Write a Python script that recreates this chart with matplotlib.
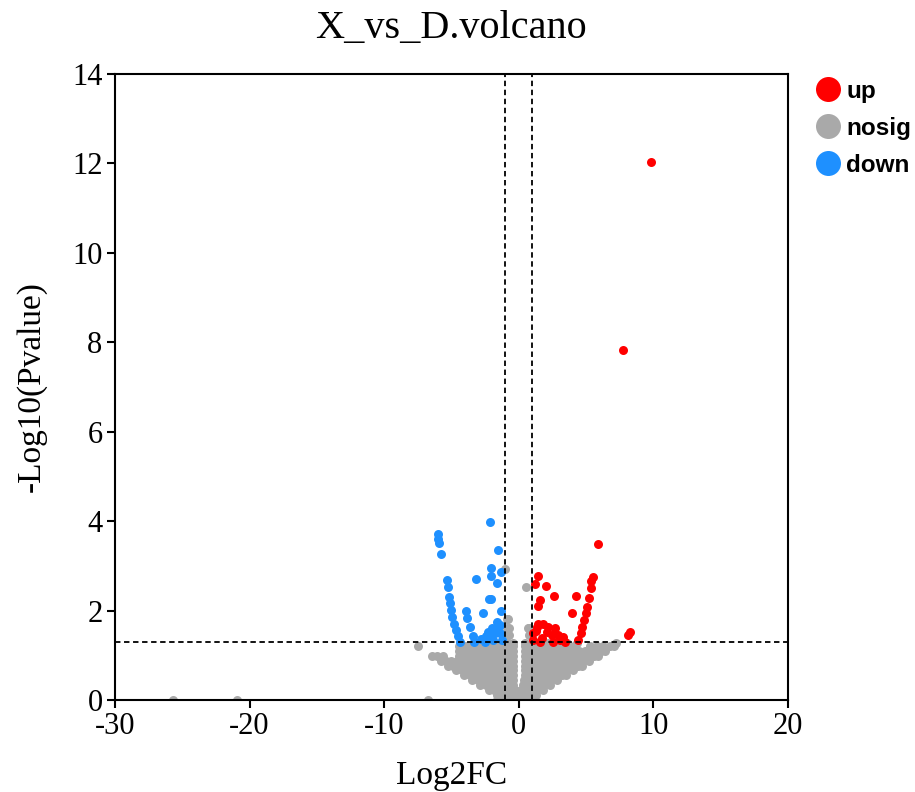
import matplotlib
matplotlib.use("Agg")
import matplotlib.pyplot as plt
from matplotlib.lines import Line2D

# ---- data (log2FC, -log10 p) ----
up_x = [9.82, 7.75, 5.91, 1.45, 1.20, 2.02, 2.62, 4.25, 1.58, 1.40, 3.93,
        5.49, 5.41, 5.34, 5.24, 5.09, 4.99, 4.84, 4.74, 4.60, 4.42,
        8.26, 8.09,
        1.45, 1.82, 2.19, 2.69, 2.07, 2.44, 3.31, 3.06, 1.08, 1.70, 1.08,
        1.58, 1.33, 2.57, 3.43, 1.25, 2.90]
up_y = [12.03, 7.83, 3.49, 2.77, 2.59, 2.55, 2.33, 2.33, 2.24, 2.10, 1.95,
        2.76, 2.65, 2.50, 2.27, 2.09, 1.94, 1.79, 1.64, 1.49, 1.34,
        1.53, 1.45,
        1.71, 1.71, 1.64, 1.60, 1.53, 1.45, 1.41, 1.34, 1.49, 1.38, 1.34,
        1.30, 1.64, 1.30, 1.30, 1.55, 1.45]

down_x = [-2.13, -5.98, -6.03, -5.95, -5.80, -1.57, -2.07, -2.07, -1.32, -3.18,
          -1.60, -2.19, -2.09, -2.64, -1.32,
          -5.36, -5.28, -5.19, -5.11, -5.04, -4.94, -4.81, -4.69, -4.54, -4.37,
          -3.92, -3.87, -3.63, -3.43, -3.33,
          -2.26, -2.44, -2.02, -1.64, -1.40, -1.77, -1.40, -1.27, -2.51, -1.89,
          -2.14, -1.52, -2.80]
down_y = [3.97, 3.71, 3.60, 3.52, 3.27, 3.35, 2.95, 2.77, 2.86, 2.70,
          2.62, 2.25, 2.25, 1.94, 1.99,
          2.68, 2.52, 2.30, 2.16, 2.01, 1.86, 1.71, 1.57, 1.42, 1.30,
          1.99, 1.83, 1.64, 1.42, 1.30,
          1.53, 1.42, 1.60, 1.75, 1.68, 1.49, 1.49, 1.34, 1.30, 1.34,
          1.42, 1.57, 1.36]

# nosig genes, typed row by row (-log10 p, then the log2FC values on that row)
nosig_rows = [
    (0.00, [-25.7, -20.97, -6.72, -1.64]),
    (0.02, [-1.15, -0.80, -0.45, -0.10, 0.25, 0.55, 0.85]),
    (0.12, [-1.60, -1.20, -0.80, -0.45, -0.15, 0.15, 0.50, 0.90, 1.30]),
    (0.22, [-2.20, -1.80, -1.40, -1.00, -0.60, -0.30, 0.20, 0.55, 0.95, 1.35, 1.80]),
    (0.33, [-2.85, -2.45, -2.05, -1.65, -1.25, -0.85, -0.45, 0.35, 0.65, 1.05,
            1.45, 1.85, 2.30]),
    (0.44, [-3.45, -3.05, -2.65, -2.25, -1.85, -1.45, -1.05, -0.70, -0.42, 0.42,
            0.80, 1.20, 1.60, 2.00, 2.40, 2.85]),
    (0.55, [-4.05, -3.65, -3.25, -2.85, -2.45, -2.05, -1.65, -1.25, -0.85, -0.45,
            0.45, 0.80, 1.20, 1.60, 2.00, 2.40, 2.80, 3.20, 3.50]),
    (0.66, [-4.65, -4.25, -3.85, -3.45, -3.05, -2.65, -2.25, -1.85, -1.45, -1.05,
            -0.45, 0.45, 0.80, 1.20, 1.60, 2.00, 2.40, 2.80, 3.20, 3.60, 4.05]),
    (0.77, [-5.25, -4.85, -4.45, -4.05, -3.65, -3.25, -2.85, -2.45, -2.05, -1.65,
            -1.25, -0.85, -0.45, 0.45, 0.80, 1.20, 1.60, 2.00, 2.40, 2.80, 3.20,
            3.60, 4.00, 4.40, 4.70]),
    (0.88, [-5.80, -5.40, -5.00, -4.55, -4.15, -3.75, -3.35, -2.95, -2.55, -2.15,
            -1.75, -1.35, -0.95, -0.45, 0.45, 0.80, 1.20, 1.60, 2.00, 2.40, 2.80,
            3.20, 3.60, 4.00, 4.40, 4.80, 5.25]),
    (0.99, [-6.45, -6.05, -5.65, -4.45, -4.05, -3.65, -3.25, -2.85, -2.45, -2.05,
            -1.65, -1.25, -0.85, -0.45, 0.45, 0.80, 1.20, 1.60, 2.00, 2.40, 2.80,
            3.20, 3.60, 4.00, 4.40, 4.80, 5.20, 5.60, 5.90]),
    (1.10, [-4.45, -4.05, -3.60, -3.20, -2.80, -2.40, -2.00, -1.60, -1.20, -0.80,
            -0.45, 0.45, 0.85, 1.25, 1.65, 2.05, 2.45, 2.85, 3.25, 3.65, 4.05,
            4.45, 4.90, 5.30, 5.70, 6.10, 6.45]),
    (1.21, [-7.47, -4.40, -3.95, -3.50, -3.10, -2.70, -2.30, -1.90, -1.50, -1.10,
            -0.70, -0.45, 0.45, 0.85, 1.30, 1.70, 2.10, 2.50, 2.90, 3.30, 3.70,
            4.10, 5.30, 5.80, 6.30, 6.80, 7.10]),
    (1.28, [-4.35, -3.35, -2.60, -1.80, -1.20, -0.80, -0.45, 0.50, 1.00, 1.60,
            2.20, 2.90, 3.60, 4.30, 7.20]),
    (1.45, [-0.95, -0.75, 0.75, 0.90]),
    (1.62, [-0.90, -0.70, 0.72, 0.80]),
    (1.80, [-0.85, -0.78]),
    (2.52, [0.53]),
    (2.93, [-1.03]),
]

p_cut = 1.301   # -log10(0.05)
fc_cut = 1.0

RED = "#FF0000"
GRAY = "#A9A9A9"
BLUE = "#1E90FF"

plt.rcParams["font.family"] = ["Liberation Serif", "DejaVu Serif"]
plt.rcParams["axes.unicode_minus"] = False

fig = plt.figure(figsize=(9.15, 7.92), dpi=100)
ax = fig.add_axes([0.1257, 0.1162, 0.861 - 0.1257, 0.9066 - 0.1162])

nosig_x = [x for y, xs in nosig_rows for x in xs]
nosig_y = [y for y, xs in nosig_rows for x in xs]

ms = 42
ax.scatter(nosig_x, nosig_y, s=ms, color=GRAY, linewidths=0, zorder=2)
ax.scatter(down_x, down_y, s=ms, color=BLUE, linewidths=0, zorder=3)
ax.scatter(up_x, up_y, s=ms, color=RED, linewidths=0, zorder=3)

dash = (0, (3, 2))
ax.axhline(p_cut, color="black", lw=1.3, linestyle=dash, zorder=4)
ax.axvline(-fc_cut, color="black", lw=1.3, linestyle=dash, zorder=4)
ax.axvline(fc_cut, color="black", lw=1.3, linestyle=dash, zorder=4)

ax.set_xlim(-30, 20)
ax.set_ylim(0, 14)
ax.set_xticks(range(-30, 21, 10))
ax.set_yticks(range(0, 15, 2))
for s in ax.spines.values():
    s.set_linewidth(1.5)
ax.tick_params(direction="out", length=6, width=1.5, labelsize=22, pad=3)

ax.set_title("X_vs_D.volcano", fontsize=29, pad=26)
ax.set_xlabel("Log2FC", fontsize=24, labelpad=14)
ax.set_ylabel("-Log10(Pvalue)", fontsize=24, labelpad=18)

handles = [Line2D([], [], linestyle="none", marker="o", markersize=18,
                  markerfacecolor=c, markeredgewidth=0) for c in (RED, GRAY, BLUE)]
leg = fig.legend(handles, ["up", "nosig", "down"], loc="upper left",
                 bbox_to_anchor=(805 / 915, 1 - 70 / 792), frameon=False,
                 prop={"family": "Liberation Sans", "weight": "bold", "size": 17.5},
                 handletextpad=0.2, labelspacing=0.58, handlelength=1.1,
                 borderaxespad=0)

fig.savefig("out.png", dpi=100, facecolor="white")
